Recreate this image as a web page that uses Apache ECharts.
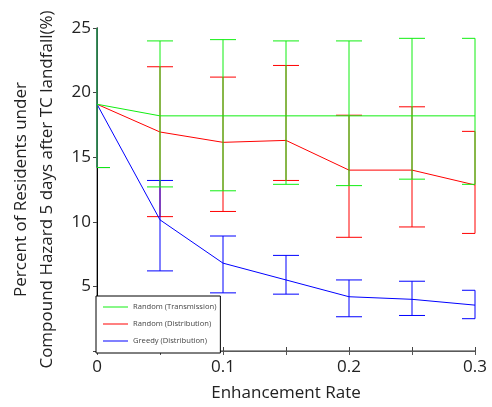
<!DOCTYPE html>
<html>
<head>
<meta charset="utf-8">
<script src="https://cdn.jsdelivr.net/npm/echarts@6/dist/echarts.min.js"></script>
<style>
  html, body { margin: 0; padding: 0; background: #fff; }
  #main { width: 492px; height: 407px; }
</style>
</head>
<body>
<div id="main"></div>
<script>
// enhancement rate on x
var rates = [0, 0.05, 0.1, 0.15, 0.2, 0.25, 0.3];

// Random (Transmission)
var transMean = [19.1, 18.2, 18.2, 18.2, 18.2, 18.2, 18.2];
var transLow  = [14.2, 12.7, 12.4, 12.9, 12.8, 13.3, 12.9];
var transHigh = [25.5, 24.0, 24.1, 24.0, 24.0, 24.2, 24.2];

// Random (Distribution)
var distMean = [19.1, 16.95, 16.15, 16.3, 14.0, 14.0, 12.85];
var distLow  = [14.2, 10.4, 10.8, 13.2, 8.8, 9.6, 9.1];
var distHigh = [25.5, 22.0, 21.2, 22.1, 18.25, 18.9, 17.0];

// Greedy (Distribution)
var greedyMean = [19.1, 10.15, 6.8, 5.5, 4.2, 4.0, 3.55];
var greedyLow  = [14.2, 6.2, 4.5, 4.4, 2.65, 2.75, 2.5];
var greedyHigh = [25.5, 13.2, 8.9, 7.4, 5.5, 5.4, 4.7];

var yTicks = [5, 10, 15, 20, 25];

var GREEN = '#11ee11', RED = '#ff0000', BLUE = '#0000ff';
var FONT = 'Open Sans';

function pairs(ys) {
    return rates.map(function (x, i) { return [x, ys[i]]; });
}
function bars(lo, hi) {
    return rates.map(function (x, i) { return [x, lo[i], hi[i]]; });
}

// error bar with caps, cut to the plot box by hand
function errBar(color) {
    return function (params, api) {
        var cs = params.coordSys;
        var left = cs.x, right = cs.x + cs.width, top = cs.y, bottom = cs.y + cs.height;
        var x = api.value(0);
        var pLo = api.coord([x, api.value(1)]);
        var pHi = api.coord([x, api.value(2)]);
        var hw = 13;
        var st = { stroke: color, lineWidth: 1 };
        var cx = pLo[0];
        var kids = [{
            type: 'line',
            shape: { x1: cx, y1: Math.max(pHi[1], top), x2: cx, y2: Math.min(pLo[1], bottom) },
            style: st
        }];
        [pHi[1], pLo[1]].forEach(function (y) {
            if (y < top - 0.5 || y > bottom + 0.5) return;
            kids.push({
                type: 'line',
                shape: { x1: Math.max(cx - hw, left), y1: y, x2: Math.min(cx + hw, right), y2: y },
                style: st
            });
        });
        return { type: 'group', children: kids };
    };
}

function lineSeries(name, ys, color, z) {
    return {
        name: name, type: 'line', data: pairs(ys),
        symbol: 'none', z: z,
        lineStyle: { color: color, width: 1 }, itemStyle: { color: color },
        animation: false
    };
}
function errSeries(name, lo, hi, color, z) {
    return {
        name: name, type: 'custom', data: bars(lo, hi),
        renderItem: errBar(color), clip: false, z: z,
        encode: { x: 0, y: [1, 2] }, animation: false, silent: true
    };
}

var myChart = echarts.init(document.getElementById('main'));
var option = {
    animation: false,
    textStyle: { fontFamily: FONT },
    grid: { left: 96, right: 17, top: 28, bottom: 54 },
    legend: {
        data: ['Random (Transmission)', 'Random (Distribution)', 'Greedy (Distribution)'],
        orient: 'vertical', left: 96, bottom: 54,
        backgroundColor: '#fff', borderColor: '#000', borderWidth: 1,
        padding: [7, 4, 8, 7], itemGap: 9,
        icon: 'rect', itemWidth: 25, itemHeight: 1,
        textStyle: { fontSize: 7.6, color: '#444', fontFamily: FONT },
        z: 10
    },
    xAxis: [{
        type: 'value', min: 0, max: 0.3, interval: 0.05,
        name: 'Enhancement Rate', nameLocation: 'middle', nameGap: 34,
        nameTextStyle: { fontSize: 17, color: '#222' },
        axisLine: { lineStyle: { color: '#000' } },
        axisTick: { inside: true, length: 4, lineStyle: { color: '#444' } },
        axisLabel: {
            fontSize: 17, color: '#222', margin: 8,
            formatter: function (v) {
                var k = Math.round(v * 20);
                return k % 2 === 0 ? String(Math.round(v * 10) / 10) : '';
            }
        },
        splitLine: { show: false }
    }, {
        type: 'value', position: 'top', min: 0, max: 0.3, interval: 0.05,
        axisLine: { lineStyle: { color: '#777', width: 1.5 } },
        axisTick: { inside: true, length: 4, lineStyle: { color: '#555' } },
        axisLabel: { show: false }, splitLine: { show: false }
    }],
    yAxis: [{
        type: 'value', min: 0, max: 25, interval: 5,
        name: 'Percent of Residents under\nCompound Hazard 5 days after TC landfall(%)',
        nameLocation: 'middle', nameRotate: 90, nameGap: 37,
        nameTextStyle: { fontSize: 17, color: '#222', lineHeight: 26 },
        axisLine: { lineStyle: { color: '#888', width: 1.5 } },
        axisTick: { length: 4, lineStyle: { color: '#444' } },
        axisLabel: {
            fontSize: 17, color: '#222', margin: 6,
            formatter: function (v) { return yTicks.indexOf(v) >= 0 ? String(v) : ''; }
        },
        splitLine: { show: false }
    }, {
        type: 'value', position: 'right', min: 0, max: 25, interval: 5,
        axisLine: { lineStyle: { color: '#000' } },
        axisTick: { inside: true, length: 4, lineStyle: { color: '#444' } },
        axisLabel: { show: false }, splitLine: { show: false }
    }],
    series: [
        errSeries('err-dist', distLow, distHigh, RED, 2),
        lineSeries('Random (Distribution)', distMean, RED, 2),
        errSeries('err-greedy', greedyLow, greedyHigh, BLUE, 3),
        lineSeries('Greedy (Distribution)', greedyMean, BLUE, 3),
        errSeries('err-trans', transLow, transHigh, GREEN, 4),
        lineSeries('Random (Transmission)', transMean, GREEN, 4)
    ]
};
myChart.setOption(option);
</script>
</body>
</html>
